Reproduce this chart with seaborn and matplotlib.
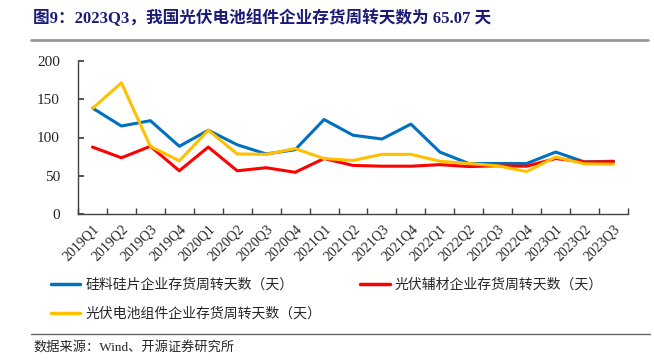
import pandas as pd
import matplotlib.pyplot as plt
import seaborn as sns
from matplotlib.lines import Line2D

quarters = ["2019Q1", "2019Q2", "2019Q3", "2019Q4", "2020Q1", "2020Q2", "2020Q3", "2020Q4",
            "2021Q1", "2021Q2", "2021Q3", "2021Q4", "2022Q1", "2022Q2", "2022Q3", "2022Q4",
            "2023Q1", "2023Q2", "2023Q3"]
silicon = [138.5, 115, 122, 88.5, 109.5, 90.5, 78.5, 84, 123.5, 103, 98, 117.5,
           81, 66, 66, 66, 81, 68, 69]
auxiliary = [87.5, 73.5, 88.5, 56.5, 87.5, 56.5, 60.5, 54.5, 72.5, 63.5, 62.5, 62.5,
             64.5, 62, 63, 62.5, 72.5, 68, 68.5]
module = [138, 171.5, 88.5, 69.5, 109.5, 78.5, 78, 85.5, 72.5, 70, 78, 78,
          69, 66, 63, 55.5, 74.5, 65.5, 65.07]

names = ["硅料硅片企业存货周转天数（天）", "光伏辅材企业存货周转天数（天）", "光伏电池组件企业存货周转天数（天）"]
colors = ["#0070C0", "#FF0000", "#FFC000"]

df = pd.DataFrame({"季度": quarters * 3,
                   "天数": silicon + auxiliary + module,
                   "系列": [names[0]] * 19 + [names[1]] * 19 + [names[2]] * 19})
df["pos"] = list(range(19)) * 3

sns.set_theme(style="ticks")
plt.rcParams["font.family"] = ["Liberation Serif", "Noto Sans CJK SC"]
plt.rcParams["axes.unicode_minus"] = False

fig = plt.figure(figsize=(6.54, 3.61), dpi=100)
ax = fig.add_axes([78 / 654, 1 - 214 / 361, 550 / 654, 153 / 361])

sns.lineplot(data=df, x="pos", y="天数", hue="系列", palette=colors, linewidth=2.2,
             sort=False, ax=ax, legend=False)

ax.set_xlim(-0.5, 18.5)
ax.set_ylim(0, 200)
ax.set_yticks([0, 50, 100, 150, 200])
ax.set_xticks(range(19))
ax.set_xticklabels(quarters, rotation=45, ha="right", rotation_mode="anchor", fontsize=10)
ax.set_xticks([i - 0.5 for i in range(20)], minor=True)
ax.tick_params(axis="x", which="major", length=0, pad=6)
ax.tick_params(axis="x", which="minor", direction="in", length=4, color="#404040")
ax.tick_params(axis="y", direction="in", length=4, labelsize=11, color="#404040", pad=13)
ax.set_xlabel("")
ax.set_ylabel("")
sns.despine(ax=ax)
for s in ["left", "bottom"]:
    ax.spines[s].set_color("#404040")
    ax.spines[s].set_linewidth(1)

handles = [Line2D([], [], color=c, lw=2.5) for c in colors]
order = [0, 2, 1]
fig.legend([handles[i] for i in order], [names[i] for i in order], ncol=2,
           loc="upper left", bbox_to_anchor=(38 / 654, 1 - 266 / 361), frameon=False,
           fontsize=10, handlelength=2.15, handletextpad=0.36, columnspacing=2.8,
           labelspacing=1.1)

fig.text(33 / 654, 1 - 18 / 361, "图9：2023Q3，我国光伏电池组件企业存货周转天数为 65.07 天",
         fontsize=12, fontweight="bold", color="#1c1c78", va="center")
fig.add_artist(Line2D([31 / 654, 648 / 654], [1 - 40 / 361] * 2, color="#999999", lw=2))
fig.add_artist(Line2D([31 / 654, 650 / 654], [1 - 334 / 361] * 2, color="#666666", lw=1))
fig.text(33 / 654, 1 - 347 / 361, "数据来源：Wind、开源证券研究所", fontsize=9.5, va="center")

fig.savefig("out.png", dpi=100)
